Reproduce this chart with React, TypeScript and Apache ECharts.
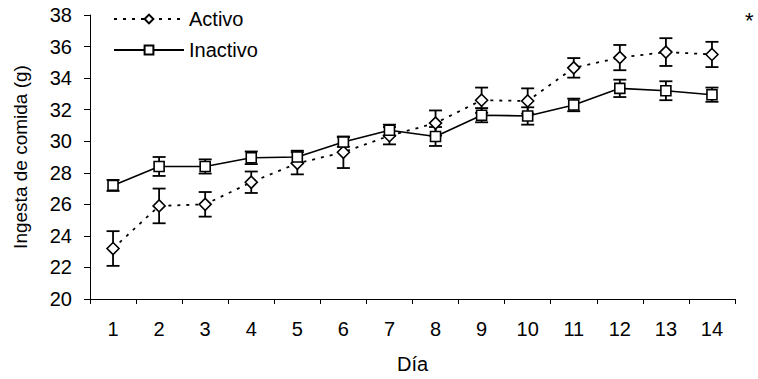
import React, { useEffect, useRef } from "react";
import * as echarts from "echarts";

const days = ["1", "2", "3", "4", "5", "6", "7", "8", "9", "10", "11", "12", "13", "14"];
const activoMean = [23.2, 25.9, 26.0, 27.4, 28.6, 29.3, 30.35, 31.15, 32.6, 32.55, 34.65, 35.3, 35.65, 35.5];
const activoErr = [1.1, 1.1, 0.78, 0.68, 0.7, 1.0, 0.55, 0.8, 0.8, 0.8, 0.62, 0.8, 0.88, 0.8];
const inactivoMean = [27.2, 28.4, 28.4, 28.95, 29.0, 29.95, 30.7, 30.3, 31.65, 31.6, 32.3, 33.35, 33.2, 32.95];
const inactivoErr = [0.35, 0.6, 0.45, 0.4, 0.4, 0.3, 0.35, 0.6, 0.45, 0.55, 0.4, 0.55, 0.6, 0.45];

const FONT = "Liberation Sans, Arial, sans-serif";

function errData(mean: number[], err: number[]) {
  return mean.map((m, i) => [i, m - err[i], m + err[i]]);
}

function renderErr(params: any, api: any) {
  const x = api.value(0);
  const lo = api.coord([x, api.value(1)]);
  const hi = api.coord([x, api.value(2)]);
  const hw = 6.5;
  const style = { stroke: "#000", lineWidth: 1.8 };
  return {
    type: "group",
    children: [
      { type: "line", shape: { x1: lo[0], y1: lo[1], x2: hi[0], y2: hi[1] }, style },
      { type: "line", shape: { x1: lo[0] - hw, y1: lo[1], x2: lo[0] + hw, y2: lo[1] }, style },
      { type: "line", shape: { x1: hi[0] - hw, y1: hi[1], x2: hi[0] + hw, y2: hi[1] }, style },
    ],
  };
}

export default function App() {
  const ref = useRef<HTMLDivElement>(null);
  useEffect(() => {
    if (!ref.current) return;
    const chart = echarts.init(ref.current, undefined, { renderer: "svg" });
    chart.setOption({
      animation: false,
      backgroundColor: "#fff",
      textStyle: { fontFamily: FONT, color: "#000" },
      grid: { left: 90, right: 23, top: 15, bottom: 77, containLabel: false },
      legend: {
        orient: "vertical",
        left: 108,
        top: 4,
        itemWidth: 70,
        itemHeight: 11,
        itemGap: 11,
        data: ["Activo", "Inactivo"],
        textStyle: { fontFamily: FONT, fontSize: 20, color: "#000", lineHeight: 20 },
      },
      xAxis: {
        type: "category",
        data: days,
        boundaryGap: true,
        name: "Día",
        nameLocation: "middle",
        nameGap: 55,
        nameTextStyle: { fontFamily: FONT, fontSize: 20, color: "#000" },
        axisLine: { lineStyle: { color: "#000", width: 1 } },
        axisTick: { show: true, alignWithLabel: false, length: 5, lineStyle: { color: "#000" } },
        axisLabel: { fontFamily: FONT, fontSize: 20, color: "#000", margin: 20 },
        splitLine: { show: false },
      },
      yAxis: {
        type: "value",
        min: 20,
        max: 38,
        interval: 2,
        name: "Ingesta de comida (g)",
        nameLocation: "middle",
        nameGap: 60,
        nameTextStyle: { fontFamily: FONT, fontSize: 19, color: "#000" },
        axisLine: { show: true, lineStyle: { color: "#000", width: 1 } },
        axisTick: { show: true, length: 6, lineStyle: { color: "#000" } },
        axisLabel: { fontFamily: FONT, fontSize: 20, color: "#000", margin: 18 },
        splitLine: { show: false },
      },
      graphic: [
        {
          type: "text",
          left: 745,
          top: 9,
          style: { text: "*", font: "22px " + FONT, fill: "#000" },
        },
      ],
      series: [
        {
          name: "errA",
          type: "custom",
          renderItem: renderErr,
          data: errData(activoMean, activoErr),
          z: 1,
          silent: true,
        },
        {
          name: "errI",
          type: "custom",
          renderItem: renderErr,
          data: errData(inactivoMean, inactivoErr),
          z: 1,
          silent: true,
        },
        {
          name: "Activo",
          type: "line",
          data: activoMean,
          symbol: "diamond",
          symbolSize: [12, 12],
          showAllSymbol: true,
          lineStyle: { color: "#000", width: 1.8, type: [3, 6] },
          itemStyle: { color: "#fff", borderColor: "#000", borderWidth: 1.6 },
          z: 3,
        },
        {
          name: "Inactivo",
          type: "line",
          data: inactivoMean,
          symbol: "rect",
          symbolSize: [10, 10],
          showAllSymbol: true,
          lineStyle: { color: "#000", width: 1.6, type: "solid" },
          itemStyle: { color: "#fff", borderColor: "#000", borderWidth: 1.6 },
          z: 4,
        },
      ],
    });
    return () => chart.dispose();
  }, []);
  return <div ref={ref} style={{ width: 758, height: 379, position: "absolute", left: 0, top: 0 }} />;
}
